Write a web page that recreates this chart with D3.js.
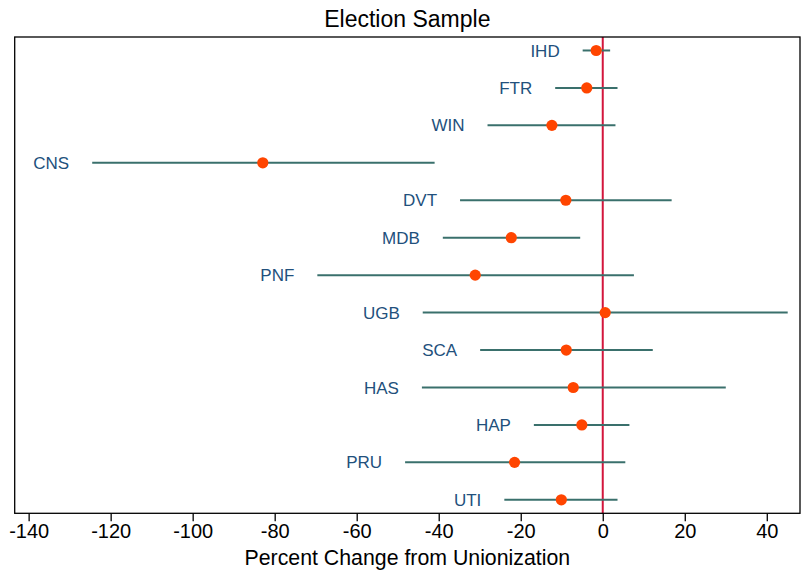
<!DOCTYPE html>
<html>
<head>
<meta charset="utf-8">
<script src="https://cdn.jsdelivr.net/npm/d3@7"></script>
<style>
  body { margin: 0; background: #fff; }
  text { font-family: "Liberation Sans", Arial, sans-serif; }
</style>
</head>
<body>
<div id="app"></div>
<script>
// values
const labels = ["IHD", "FTR", "WIN", "CNS", "DVT", "MDB", "PNF", "UGB", "SCA", "HAS", "HAP", "PRU", "UTI"];
const estimates = [-1.6, -3.9, -12.4, -82.9, -9.0, -22.3, -31.1, 0.6, -8.9, -7.2, -5.1, -21.5, -10.1];
const lowerCI = [-4.9, -11.6, -28.1, -124.5, -34.8, -39.0, -69.6, -43.9, -29.9, -44.1, -16.8, -48.2, -24.0];
const upperCI = [1.8, 3.6, 3.1, -41.0, 16.8, -5.5, 7.6, 45.1, 12.2, 30.0, 6.5, 5.5, 3.6];
const xTicks = [-140, -120, -100, -80, -60, -40, -20, 0, 20, 40];

const w = 801,
      h = 573;
const pLeft = 14.7, pRight = 800, pTop = 37, pBottom = 513.3;

const rows = labels.map((d, i) => ({
    label: d, est: estimates[i], lo: lowerCI[i], hi: upperCI[i], idx: i + 1
}));

const svg = d3.select("#app")
    .append("svg")
    .attr("width", w)
    .attr("height", h);

const xScale = d3.scaleLinear()
    .domain([-143.4, 48.1])
    .range([pLeft, pRight]);

const yScale = d3.scaleLinear()
    .domain([0.64, 13.36])
    .range([pTop, pBottom]);

// title
svg.append("text")
    .attr("x", (pLeft + pRight) / 2)
    .attr("y", 27)
    .attr("text-anchor", "middle")
    .attr("font-size", "23px")
    .attr("fill", "#000")
    .text("Election Sample");

// x axis
const xAxis = d3.axisBottom(xScale)
    .tickValues(xTicks)
    .tickSize(8)
    .tickPadding(3)
    .tickFormat(d => String(d));  // plain hyphen minus, like the original

const gx = svg.append("g")
    .attr("transform", `translate(0, ${pBottom})`)
    .call(xAxis);
gx.select(".domain").remove();
gx.selectAll(".tick line").attr("stroke", "#000").attr("stroke-width", 1.3);
gx.selectAll(".tick text")
    .attr("font-size", "20px")
    .attr("font-family", "Liberation Sans, Arial, sans-serif")
    .attr("fill", "#000");

// x label
svg.append("text")
    .attr("x", (pLeft + pRight) / 2)
    .attr("y", 565)
    .attr("text-anchor", "middle")
    .attr("font-size", "21.3px")
    .attr("fill", "#000")
    .text("Percent Change from Unionization");

// zero line
svg.append("line")
    .attr("x1", xScale(0))
    .attr("x2", xScale(0))
    .attr("y1", pTop)
    .attr("y2", pBottom)
    .attr("stroke", "#d3163c")
    .attr("stroke-width", 2);

// confidence intervals
svg.selectAll("line.ci")
    .data(rows)
    .enter()
    .append("line")
    .attr("class", "ci")
    .attr("x1", d => xScale(d.lo))
    .attr("x2", d => xScale(d.hi))
    .attr("y1", d => yScale(d.idx))
    .attr("y2", d => yScale(d.idx))
    .attr("stroke", "#3a706c")
    .attr("stroke-width", 2);

// point estimates
svg.selectAll("circle")
    .data(rows)
    .enter()
    .append("circle")
    .attr("cx", d => xScale(d.est))
    .attr("cy", d => yScale(d.idx))
    .attr("r", 5.6)
    .attr("fill", "#ff4500");

// row labels, to the left of each interval
svg.selectAll("text.lab")
    .data(rows)
    .enter()
    .append("text")
    .attr("class", "lab")
    .attr("x", d => xScale(d.lo) - 23)
    .attr("y", d => yScale(d.idx))
    .attr("dy", "0.36em")
    .attr("text-anchor", "end")
    .attr("font-size", "17px")
    .attr("fill", "#22507c")
    .text(d => d.label);

// frame
svg.append("rect")
    .attr("x", pLeft)
    .attr("y", pTop)
    .attr("width", pRight - pLeft)
    .attr("height", pBottom - pTop)
    .attr("fill", "none")
    .attr("stroke", "#000")
    .attr("stroke-width", 1.3);
</script>
</body>
</html>
